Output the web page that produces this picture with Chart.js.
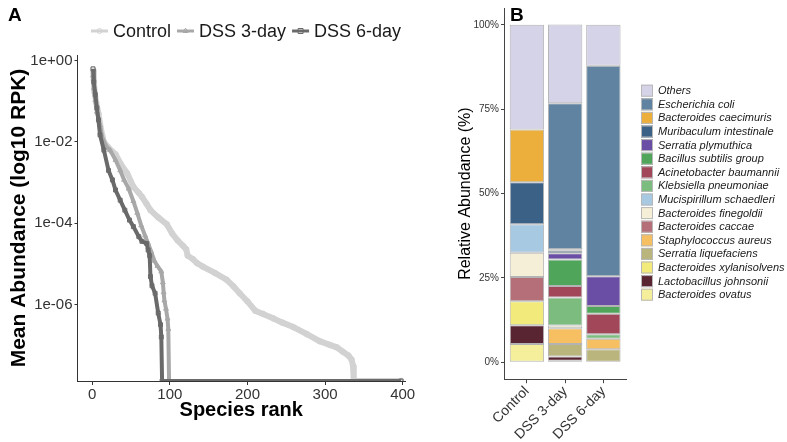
<!DOCTYPE html>
<html>
<head>
<meta charset="utf-8">
<script src="https://cdn.jsdelivr.net/npm/chart.js@4.4.0/dist/chart.umd.min.js"></script>
<style>
  html, body { margin: 0; padding: 0; background: #fff; }
  #wrap { position: relative; width: 787px; height: 442px; overflow: hidden; background: #fff; }
  #rankChart { position: absolute; left: 0; top: 0; }
  #compChart { position: absolute; left: 440px; top: 0; }
</style>
</head>
<body>
<div id="wrap">
  <canvas id="rankChart" width="440" height="442"></canvas>
  <canvas id="compChart" width="347" height="442"></canvas>
</div>
<script>
'use strict';

/* ---------- Panel A: rank abundance (0 = not detected) ---------- */
const controlRank = [1, 2, 3, 5, 8, 10, 13, 15, 20, 25, 30, 37, 45, 53, 60, 64, 70, 75, 85, 96,
  103, 110, 117, 121, 123, 130, 135, 143, 158, 173, 182, 190, 200, 210, 220, 233, 245, 259, 276, 293,
  306, 315, 323, 330, 334, 336, 337, 398];
const controlAbund = [6.0e-1, 3.4e-1, 1.7e-1, 9.5e-2, 5.0e-2, 2.8e-2, 1.4e-2, 1.0e-2, 7.6e-3, 6.0e-3,
  5.0e-3, 2.8e-3, 1.7e-3, 7.9e-4, 5.6e-4, 4.5e-4, 3.0e-4, 2.1e-4, 1.4e-4, 9.5e-5,
  5.6e-5, 3.8e-5, 2.8e-5, 2.3e-5, 1.6e-5, 1.3e-5, 1.05e-5, 8.5e-6, 6.0e-6, 4.1e-6,
  2.8e-6, 1.9e-6, 1.2e-6, 7.1e-7, 5.9e-7, 4.6e-7, 3.6e-7, 2.8e-7, 1.9e-7, 1.26e-7,
  1.02e-7, 8.9e-8, 6.9e-8, 5.6e-8, 4.5e-8, 3.2e-8, 0, 0];

const dss3Rank = [1, 2, 4, 6, 10, 13, 18, 23, 30, 36, 41, 47, 53, 58, 63, 68, 72, 76, 80, 84,
  89, 91, 92, 93, 95, 97, 98, 99, 398];
const dss3Abund = [4.3e-1, 2.1e-1, 1.07e-1, 5.5e-2, 2.6e-2, 1.26e-2, 7.9e-3, 6.3e-3, 3.6e-3, 2.0e-3,
  1.17e-3, 7.1e-4, 3.5e-4, 1.8e-4, 8.9e-5, 5.0e-5, 3.2e-5, 2.0e-5, 1.2e-5, 8.9e-6,
  6.5e-6, 3.5e-6, 2.0e-6, 1.26e-6, 7.9e-7, 4.5e-7, 2.5e-7, 0, 0];

const dss6Rank = [1, 2, 4, 6, 8, 10, 15, 21, 26, 30, 36, 42, 48, 53, 60, 64, 70, 72, 74, 75,
  77, 81, 85, 88, 89, 90, 398];
const dss6Abund = [6.3e-1, 3.0e-1, 1.45e-1, 6.9e-2, 3.5e-2, 1.5e-2, 6.3e-3, 2.0e-3, 1.17e-3, 6.6e-4,
  3.7e-4, 2.1e-4, 1.2e-4, 8.3e-5, 4.7e-5, 3.6e-5, 3.2e-5, 2.2e-5, 1.6e-5, 4.9e-6,
  2.9e-6, 1.9e-6, 6.2e-7, 3.2e-7, 1.6e-7, 0, 0];

const groupNames = ['Control', 'DSS 3-day', 'DSS 6-day'];
const rankTicks = [0, 100, 200, 300, 400];
const abundTicks = [1, 1e-2, 1e-4, 1e-6];

/* ---------- Panel B: relative abundance (%) ---------- */
const taxa = ['Others', 'Escherichia coli', 'Bacteroides caecimuris', 'Muribaculum intestinale',
  'Serratia plymuthica', 'Bacillus subtilis group', 'Acinetobacter baumannii', 'Klebsiella pneumoniae',
  'Mucispirillum schaedleri', 'Bacteroides finegoldii', 'Bacteroides caccae', 'Staphylococcus aureus',
  'Serratia liquefaciens', 'Bacteroides xylanisolvens', 'Lactobacillus johnsonii', 'Bacteroides ovatus'];
const controlShare = [31.0, 0, 15.6, 12.5, 0, 0, 0, 0, 8.4, 7.2, 7.2, 0, 0, 7.1, 5.6, 5.4];
const dss3Share = [23.3, 43.3, 0.4, 0.8, 1.8, 7.9, 3.4, 8.3, 0, 0.8, 0, 4.7, 3.7, 0, 1.2, 0.5];
const dss6Share = [12.1, 62.4, 0, 0, 8.8, 2.3, 6.1, 1.3, 0, 0, 0, 3.1, 3.9, 0, 0, 0];
const shareTicks = [0, 25, 50, 75, 100];

/* ---------- styles ---------- */
const FONT = '"Liberation Sans", Arial, Helvetica, sans-serif';
Chart.defaults.font.family = FONT;

const lineColors = ['#d2d2d2', '#a8a8a8', '#6a6a6a'];
const lineWidths = [6, 4, 4];
const markerStyles = ['circle', 'triangle', 'rect'];
const taxaColors = ['#d5d3e8', '#5f83a1', '#edaf3b', '#3b6186', '#6a4ea5', '#4fa65a', '#a2465a', '#7cbd7f',
  '#a8c9e2', '#f6efd8', '#b56f79', '#f5bf62', '#b9b57d', '#f2eb7b', '#5a2532', '#f5ef9c'];

const Y_MIN = 1.32e-8;   // bottom of the log panel (zeros land here)
const Y_MAX = 1.38;

function sciLabel(v) {
  const e = Math.round(Math.log10(v));
  return '1e' + (e < 0 ? '-' : '+') + String(Math.abs(e)).padStart(2, '0');
}

function drawMarker(ctx, style, x, y, r) {
  ctx.beginPath();
  if (style === 'circle') {
    ctx.arc(x, y, r, 0, Math.PI * 2);
  } else if (style === 'triangle') {
    ctx.moveTo(x, y - r * 1.15);
    ctx.lineTo(x + r, y + r * 0.6);
    ctx.lineTo(x - r, y + r * 0.6);
    ctx.closePath();
  } else {
    ctx.rect(x - r, y - r, 2 * r, 2 * r);
  }
  ctx.stroke();
}

const rankLegend = {
  id: 'rankLegend',
  afterDraw(chart) {
    const ctx = chart.ctx;
    ctx.save();
    ctx.font = '18px ' + FONT;
    ctx.textBaseline = 'middle';
    let x = 91;
    const y = 31;
    chart.data.datasets.forEach((ds, i) => {
      ctx.strokeStyle = lineColors[i];
      ctx.lineWidth = 3;
      ctx.beginPath();
      ctx.moveTo(x, y);
      ctx.lineTo(x + 17, y);
      ctx.stroke();
      ctx.lineWidth = 1;
      drawMarker(ctx, markerStyles[i], x + 8.5, y, 2.5);
      ctx.fillStyle = '#1a1a1a';
      ctx.fillText(ds.label, x + 22, y + 1);
      x += 22 + ctx.measureText(ds.label).width + 6;
    });
    ctx.font = 'bold 19px ' + FONT;
    ctx.fillStyle = '#000';
    ctx.textBaseline = 'alphabetic';
    ctx.fillText('A', 8, 21);
    ctx.restore();
  }
};

const compLegend = {
  id: 'compLegend',
  afterDraw(chart) {
    const ctx = chart.ctx;
    ctx.save();
    ctx.font = 'italic 11px ' + FONT;
    ctx.textBaseline = 'middle';
    taxa.forEach((name, i) => {
      const yc = 90.7 + i * 13.6;
      ctx.fillStyle = taxaColors[i];
      ctx.fillRect(201, yc - 6, 12, 12);
      ctx.strokeStyle = '#b8b8b8';
      ctx.lineWidth = 1;
      ctx.strokeRect(201.5, yc - 5.5, 11, 11);
      ctx.fillStyle = '#1a1a1a';
      ctx.fillText(name, 218, yc + 0.5);
    });
    ctx.font = 'bold 19px ' + FONT;
    ctx.fillStyle = '#000';
    ctx.textBaseline = 'alphabetic';
    ctx.fillText('B', 70, 21);
    ctx.restore();
  }
};

/* ---------- Panel A chart ---------- */
const rankSeries = [[controlRank, controlAbund], [dss3Rank, dss3Abund], [dss6Rank, dss6Abund]];

new Chart(document.getElementById('rankChart'), {
  type: 'line',
  data: {
    datasets: rankSeries.map(([ranks, vals], i) => ({
      label: groupNames[i],
      data: ranks.map((r, k) => ({ x: r, y: vals[k] > 0 ? vals[k] : Y_MIN })),
      borderColor: lineColors[i],
      borderWidth: lineWidths[i],
      pointStyle: markerStyles[i],
      pointRadius: 2.8,
      pointBorderWidth: 1,
      pointBorderColor: lineColors[i],
      pointBackgroundColor: 'rgba(255,255,255,0)',
      tension: 0,
      clip: 0,
      order: 2 - i
    }))
  },
  options: {
    responsive: false,
    animation: false,
    events: [],
    layout: { padding: { left: 0, top: 55, right: 35, bottom: 20 } },
    plugins: { legend: { display: false }, tooltip: { enabled: false } },
    scales: {
      x: {
        type: 'linear', min: -19, max: 403,
        afterBuildTicks: ax => { ax.ticks = rankTicks.map(v => ({ value: v })); },
        afterFit: ax => { ax.height = 41; },
        grid: { drawOnChartArea: false, tickLength: 4, color: '#333' },
        border: { color: '#333', width: 1 },
        ticks: { color: '#333', font: { size: 15 }, padding: 1, maxRotation: 0 },
        title: { display: true, text: 'Species rank', color: '#000', font: { size: 20, weight: 'bold' }, padding: 0 }
      },
      y: {
        type: 'logarithmic', min: Y_MIN, max: Y_MAX,
        afterBuildTicks: ax => { ax.ticks = abundTicks.map(v => ({ value: v })); },
        afterFit: ax => { ax.width = 77.5; },
        grid: { drawOnChartArea: false, tickLength: 3, color: '#333' },
        border: { color: '#333', width: 1 },
        ticks: { color: '#333', font: { size: 15 }, padding: 2, callback: v => sciLabel(v) },
        title: { display: true, text: 'Mean Abundance (log10 RPK)', color: '#000', font: { size: 21, weight: 'bold' }, padding: { top: 7, bottom: 0 } }
      }
    }
  },
  plugins: [rankLegend]
});

/* ---------- Panel B chart ---------- */
const shareByGroup = [controlShare, dss3Share, dss6Share];
const compSets = [];
for (let i = taxa.length - 1; i >= 0; i--) {
  compSets.push({
    label: taxa[i],
    data: shareByGroup.map((arr, j) => ({ x: j + 1, y: arr[i] > 0 ? arr[i] : null })),
    backgroundColor: taxaColors[i],
    borderColor: '#b3b3b3',
    borderWidth: 1,
    borderSkipped: false,
    barPercentage: 0.9,
    categoryPercentage: 1
  });
}

new Chart(document.getElementById('compChart'), {
  type: 'bar',
  data: { datasets: compSets },
  options: {
    responsive: false,
    animation: false,
    events: [],
    layout: { padding: { left: 0, top: 7, right: 160.7, bottom: 0 } },
    plugins: { legend: { display: false }, tooltip: { enabled: false } },
    scales: {
      x: {
        type: 'linear', min: 0.4, max: 3.6, offset: false, stacked: true,
        afterBuildTicks: ax => { ax.ticks = groupNames.map((g, i) => ({ value: i + 1 })); },
        afterFit: ax => { ax.height = 62.8; },
        grid: { offset: false, drawOnChartArea: false, tickLength: 4, color: '#444' },
        border: { color: '#444', width: 1 },
        ticks: { color: '#333', font: { size: 14 }, padding: 0, minRotation: 45, maxRotation: 45,
          callback: (v, idx) => groupNames[idx] }
      },
      y: {
        type: 'linear', min: -5, max: 105, stacked: true,
        afterBuildTicks: ax => { ax.ticks = shareTicks.map(v => ({ value: v })); },
        afterFit: ax => { ax.width = 64; },
        grid: { drawOnChartArea: false, tickLength: 3, color: '#444' },
        border: { color: '#444', width: 1 },
        ticks: { color: '#333', font: { size: 10 }, padding: 2, callback: v => v + '%' },
        title: { display: true, text: 'Relative Abundance (%)', color: '#000', font: { size: 16 }, padding: { top: 16, bottom: 0 } }
      }
    }
  },
  plugins: [compLegend]
});
</script>
</body>
</html>
